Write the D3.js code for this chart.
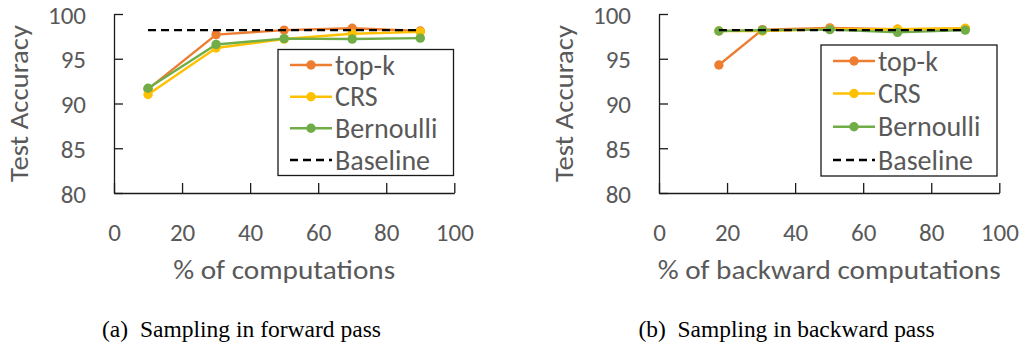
<!DOCTYPE html>
<html>
<head>
<meta charset="utf-8">
<script src="https://cdn.jsdelivr.net/npm/d3@7"></script>
<style>
  html, body { margin: 0; padding: 0; background: #fff; }
  svg { display: block; }
  .axis text { font-family: Carlito, Lato, "Open Sans", sans-serif; font-size: 25px; fill: #595959; }
  .axis path, .axis line { stroke: #1a1a1a; stroke-width: 1.3px; }
  .title { font-family: Carlito, Lato, "Open Sans", sans-serif; font-size: 27px; fill: #595959; }
  .legend text { font-family: Carlito, Lato, "Open Sans", sans-serif; font-size: 28px; fill: #595959; }
  .caption { font-family: "Liberation Serif", "Times New Roman", serif; font-size: 23px; fill: #000; }
</style>
</head>
<body>
<svg id="chart" width="1026" height="349"></svg>
<script>
// Series names and colours
const seriesNames = ["top-k", "CRS", "Bernoulli", "Baseline"];
const seriesColors = ["#ED7D31", "#FFC000", "#70AD47", "#000000"];

// Axis ticks
const xTicks = [0, 20, 40, 60, 80, 100];
const yTicks = [80, 85, 90, 95, 100];

// (a) Sampling in forward pass
const fwdX = [10, 30, 50, 70, 90];
const fwdTopK = [91.6, 97.7, 98.2, 98.4, 98.1];
const fwdCRS = [91.0, 96.2, 97.2, 97.8, 98.0];
const fwdBernoulli = [91.7, 96.6, 97.25, 97.2, 97.3];
const fwdBaseline = 98.2;

// (b) Sampling in backward pass
const bwdX = [17.6, 30.4, 50.2, 70.1, 90];
const bwdTopK = [94.3, 98.25, 98.45, 98.3, 98.35];
const bwdCRS = [98.1, 98.1, 98.3, 98.3, 98.4];
const bwdBernoulli = [98.1, 98.2, 98.25, 97.95, 98.2];
const bwdBaseline = 98.2;

const svg = d3.select("#chart");

function drawPanel(cfg) {
  const g = svg.append("g");
  const x = d3.scaleLinear().domain([0, 100]).range([cfg.left, cfg.left + 340.3]);
  const y = d3.scaleLinear().domain([80, 100]).range([193, 14]);

  // Axes with inward ticks
  g.append("g").attr("class", "axis")
    .attr("transform", `translate(${cfg.left},0)`)
    .call(d3.axisLeft(y).tickValues(yTicks).tickSizeInner(-9).tickSizeOuter(0).tickPadding(28))
    .call(s => s.selectAll("text").attr("dy", "0.36em"));

  g.append("g").attr("class", "axis")
    .attr("transform", `translate(0,193)`)
    .call(d3.axisBottom(x).tickValues(xTicks).tickSizeInner(-10).tickSizeOuter(0).tickPadding(30));

  // Axis titles
  g.append("text").attr("class", "title")
    .attr("transform", `translate(${cfg.yTitleX},103.5) rotate(-90)`)
    .attr("text-anchor", "middle").attr("dominant-baseline", "middle")
    .attr("textLength", 157).attr("lengthAdjust", "spacingAndGlyphs")
    .text("Test Accuracy");
  g.append("text").attr("class", "title")
    .attr("x", x(50)).attr("y", 279)
    .attr("text-anchor", "middle")
    .attr("textLength", cfg.xTitleW).attr("lengthAdjust", "spacingAndGlyphs")
    .text(cfg.xTitle);

  // Series
  const line = d3.line().x(d => x(d[0])).y(d => y(d[1]));
  cfg.series.forEach((vals, i) => {
    const pts = cfg.xs.map((xv, j) => [xv, vals[j]]);
    g.append("path").datum(pts)
      .attr("fill", "none").attr("stroke", seriesColors[i])
      .attr("stroke-width", 2.4).attr("stroke-linejoin", "round")
      .attr("d", line);
    g.selectAll(null).data(pts).enter().append("circle")
      .attr("cx", d => x(d[0])).attr("cy", d => y(d[1]))
      .attr("r", 4.7).attr("fill", seriesColors[i]);
  });

  // Baseline (dashed)
  const bx = [cfg.xs[0], cfg.xs[cfg.xs.length - 1]];
  g.append("path").datum(bx.map(v => [v, cfg.baseline]))
    .attr("fill", "none").attr("stroke", seriesColors[3])
    .attr("stroke-width", 2.4).attr("stroke-dasharray", "8,5")
    .attr("d", line);

  // Legend
  const lg = g.append("g").attr("class", "legend");
  lg.append("rect")
    .attr("x", cfg.legend.x).attr("y", cfg.legend.y)
    .attr("width", cfg.legend.w).attr("height", cfg.legend.h)
    .attr("fill", "#fff").attr("stroke", "#1a1a1a").attr("stroke-width", 1.3);
  seriesNames.forEach((name, i) => {
    const yy = cfg.legend.rows[i];
    const x0 = cfg.legend.x + 12, x1 = cfg.legend.x + 54;
    lg.append("line")
      .attr("x1", x0).attr("x2", x1).attr("y1", yy).attr("y2", yy)
      .attr("stroke", seriesColors[i]).attr("stroke-width", 2.4)
      .attr("stroke-dasharray", i === 3 ? "8,5" : null);
    if (i < 3) {
      lg.append("circle").attr("cx", (x0 + x1) / 2).attr("cy", yy)
        .attr("r", 4.7).attr("fill", seriesColors[i]);
    }
    lg.append("text")
      .attr("x", x1 + 3).attr("y", yy)
      .attr("dominant-baseline", "central")
      .text(name);
  });

  // Caption
  svg.append("text").attr("class", "caption")
    .attr("x", cfg.caption.x).attr("y", 337)
    .attr("textLength", cfg.caption.w).attr("lengthAdjust", "spacingAndGlyphs")
    .text(cfg.caption.text);
}

drawPanel({
  left: 114, yTitleX: 22, xTitle: "% of computations", xTitleW: 222,
  xs: fwdX, series: [fwdTopK, fwdCRS, fwdBernoulli], baseline: fwdBaseline,
  legend: { x: 278, y: 49.5, w: 175.5, h: 126, rows: [65, 96.7, 128.3, 160] },
  caption: { x: 102, w: 279, text: "(a)\u2002Sampling in forward pass" }
});

drawPanel({
  left: 659, yTitleX: 567, xTitle: "% of backward computations", xTitleW: 343,
  xs: bwdX, series: [bwdTopK, bwdCRS, bwdBernoulli], baseline: bwdBaseline,
  legend: { x: 821, y: 45, w: 176, h: 131, rows: [61, 93.5, 126.7, 160] },
  caption: { x: 638.5, w: 296, text: "(b)\u2002Sampling in backward pass" }
});
</script>
</body>
</html>
